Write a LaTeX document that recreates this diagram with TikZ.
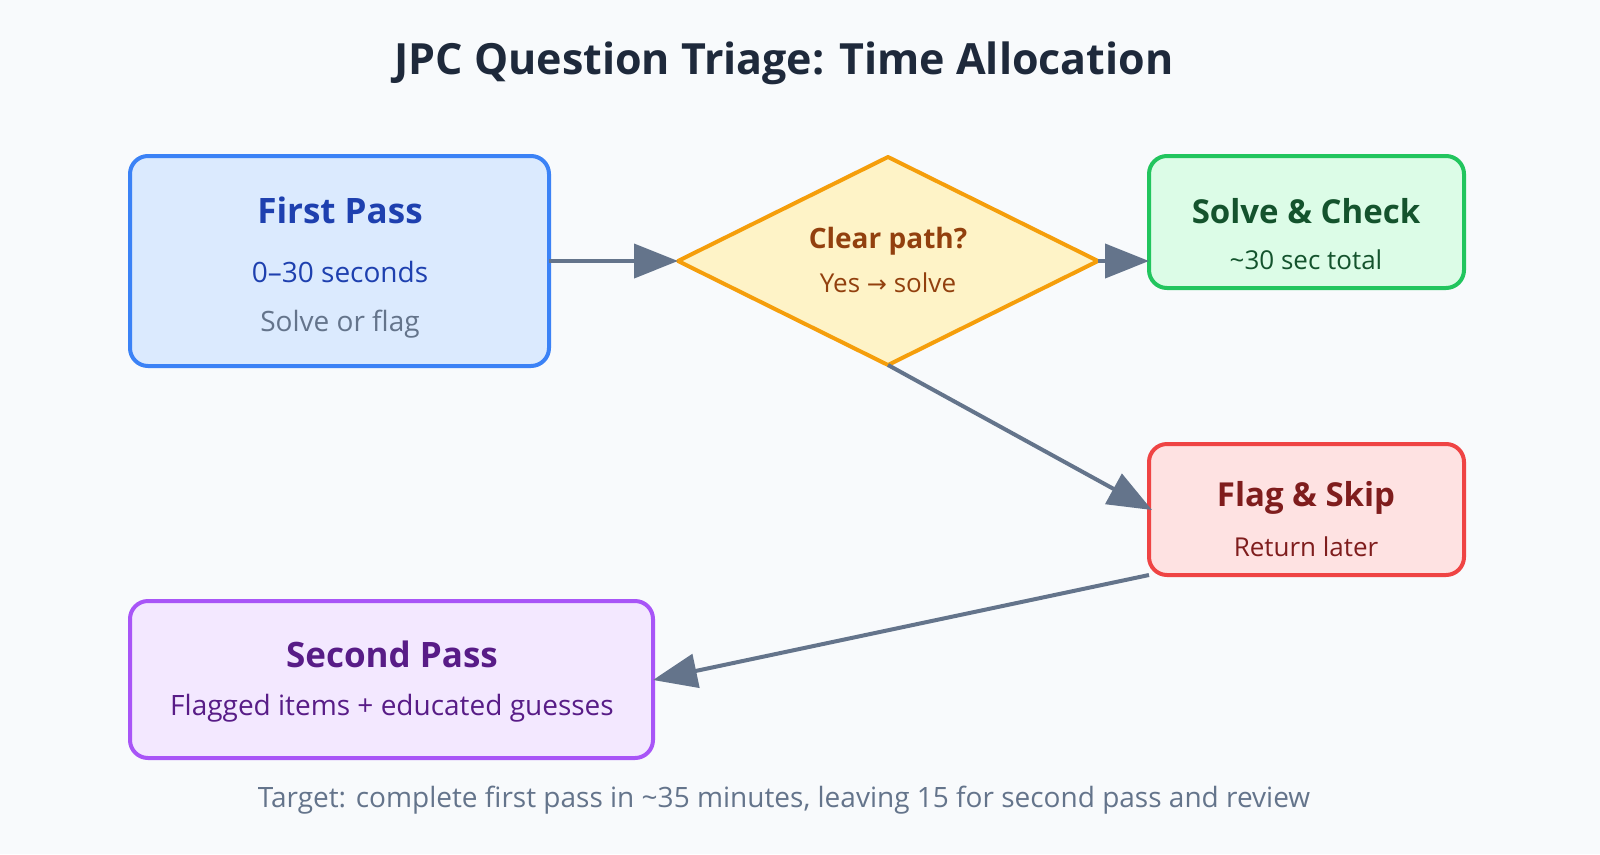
\documentclass[tikz,border=0pt]{standalone}
\usepackage{fontspec}
\setmainfont{Open Sans}
\newfontfamily\dv{DejaVu Sans}
\usetikzlibrary{arrows.meta}
\definecolor{bg}{HTML}{F8FAFC}
\definecolor{ttl}{HTML}{1E293B}
\definecolor{gr}{HTML}{64748B}
\definecolor{bS}{HTML}{3B82F6}\definecolor{bF}{HTML}{DBEAFE}\definecolor{bT}{HTML}{1E40AF}
\definecolor{yS}{HTML}{F59E0B}\definecolor{yF}{HTML}{FEF3C7}\definecolor{yT}{HTML}{92400E}
\definecolor{gS}{HTML}{22C55E}\definecolor{gF}{HTML}{DCFCE7}\definecolor{gT}{HTML}{14532D}
\definecolor{rS}{HTML}{EF4444}\definecolor{rF}{HTML}{FEE2E2}\definecolor{rT}{HTML}{7F1D1D}
\definecolor{pS}{HTML}{A855F7}\definecolor{pF}{HTML}{F3E8FF}\definecolor{pT}{HTML}{581C87}
\newcommand{\fs}[1]{\fontsize{#1}{#1}\selectfont}
\begin{document}
\begin{tikzpicture}[x=1pt,y=-1pt,
 box/.style={draw,line width=4pt,rounded corners=18pt},
 txt/.style={anchor=center,inner sep=0},
 arr/.style={draw=gr,line width=4pt,-{Triangle[length=44pt,width=34pt]}}]
\fill[bg] (0,0) rectangle (1600,854);
\node[txt,text=ttl,font=\fs{43}\bfseries] (title) at (784,63) {JPC Question Triage: Time Allocation};
\draw[box,draw=bS,fill=bF] (130,156) rectangle (549,366);
\coordinate (fpE) at (549,261);
\node[txt,text=bT,font=\fs{35}\bfseries] (fp1) at (340,210) {First Pass};
\node[txt,text=bT,font=\fs{28}] (fp2) at (340,272) {0–30 seconds};
\node[txt,text=gr,font=\fs{28}] (fp3) at (340,324) {Solve or flag};
\draw[line width=4pt,draw=yS,fill=yF,line join=round] (678,261) coordinate (dW) -- (888,157) -- (1098,261) coordinate (dE) -- (888,365) coordinate (dS) -- cycle;
\node[txt,text=yT,font=\fs{28}\bfseries] (d1) at (888,241) {Clear path?};
\node[txt,text=yT,font=\fs{26}] (d2) at (888,283) {Yes {\dv\fs{24}→} solve};
\draw[box,draw=gS,fill=gF] (1149,156) rectangle (1464,288);
\coordinate (scW) at (1149,261);
\node[txt,text=gT,font=\fs{33}\bfseries] (sc1) at (1306,211) {Solve \& Check};
\node[txt,text=gT,font=\fs{26}] (sc2) at (1306,260) {\textasciitilde30 sec total};
\draw[box,draw=rS,fill=rF] (1149,444) rectangle (1464,575);
\coordinate (fsW) at (1152,510);
\coordinate (fsB) at (1149,575);
\node[txt,text=rT,font=\fs{33}\bfseries] (fs1) at (1306,498) {Flag \& Skip};
\node[txt,text=rT,font=\fs{26}] (fs2) at (1306,547) {Return later};
\draw[box,draw=pS,fill=pF] (130,601) rectangle (653,758);
\coordinate (spE) at (653,680);
\node[txt,text=pT,font=\fs{35}\bfseries] (sp1) at (392,654) {Second Pass};
\node[txt,text=pT,font=\fs{28}] (sp2) at (392,708) {Flagged items + educated guesses};
\node[txt,text=gr,font=\fs{28}] (foot) at (784,800) {Target: complete first pass in \textasciitilde35 minutes, leaving 15 for second pass and review};
\draw[arr] (fpE) -- (dW);
\draw[arr] (dE) -- (scW);
\draw[arr] (dS) -- (fsW);
\draw[arr] (fsB) -- (spE);
\pgfresetboundingbox
\useasboundingbox (0,0) rectangle (1600,854);
\end{tikzpicture}
\end{document}
